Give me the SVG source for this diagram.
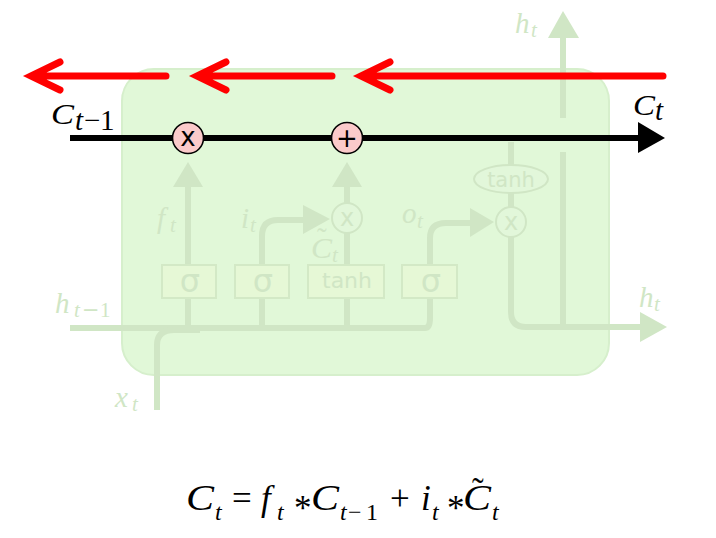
<svg xmlns="http://www.w3.org/2000/svg" width="716" height="538" viewBox="0 0 716 538">
<defs>
<style>
.fl{fill:none;stroke:#d0e6c5;stroke-width:6}
.fa{fill:#d0e6c5;stroke:none}
.gate{fill:#e6f8d6;stroke:#d3e9c6;stroke-width:2}
.gt{font-family:"DejaVu Sans",sans-serif;fill:#d0e6c5;text-anchor:middle}
.fo{fill:#e2f7da;stroke:#d0e6c5;stroke-width:2}
.lab{font-family:"Liberation Serif",serif;font-style:italic;font-size:29px;fill:#d0e6c5}
.ls{font-size:21px}
.mn{font-family:"DejaVu Sans",sans-serif;font-style:normal}
.blab{font-family:"Liberation Serif",serif;font-style:italic;font-size:29px;fill:#000}
.rm{font-style:normal}
.red{fill:none;stroke:#ff0000;stroke-width:7;stroke-linecap:round;stroke-linejoin:miter}
.op{fill:#fbcaca;stroke:#000;stroke-width:1.6}
.opt{font-family:"DejaVu Sans",sans-serif;font-size:26px;fill:#000;text-anchor:middle}
.eq{font-family:"Liberation Serif",serif;font-size:35px;fill:#000}
.eqs{font-family:"Liberation Serif",serif;font-size:24px;fill:#000}
.it{font-style:italic}
</style>
</defs>
<rect width="716" height="538" fill="#fff"/>
<g id="cell"><rect x="122" y="69" width="487" height="306" rx="32" fill="#e1f8d8" stroke="#d6efcc" stroke-width="2"/></g>
<g id="connectors">
<path class="fl" d="M70,328 L425,328 Q430,328 430,318 L430,298"/>
<path class="fl" d="M157,410 L157,345 Q157,330 174,330 L200,330"/>
<path class="fl" d="M188,328 L188,298 M188,265 L188,185"/>
<polygon class="fa" points="173,187 203,187 188,162"/>
<path class="fl" d="M262,328 L262,298 M262,265 L262,236 Q262,220 278,220 L305,220"/>
<polygon class="fa" points="303,205 303,234 330,219"/>
<path class="fl" d="M347,328 L347,298 M347,265 L347,233 M347,203 L347,185"/>
<polygon class="fa" points="332,187 362,187 347,162"/>
<path class="fl" d="M430,265 L430,238 Q430,223 446,223 L472,223"/>
<polygon class="fa" points="470,208 470,237 494,222"/>
<path class="fl" d="M511,142 L511,165 M511,193 L511,207 M511,237 L511,312 Q511,327 526,327 L645,327"/>
<polygon class="fa" points="640,312 640,342 667,327"/>
<path class="fl" d="M563,327 L563,152 M563,118 L563,36"/>
<polygon class="fa" points="548,38 579,38 563,11"/>
<path d="M70,138 L640,138" fill="none" stroke="#000" stroke-width="6"/>
<polygon points="638,122 638,153 665,138" fill="#000"/>
<path class="red" d="M166,76 L36,76 M60,62 L31,76 L60,90"/>
<path class="red" d="M332,76 L202,76 M226,62 L197,76 L226,90"/>
<path class="red" d="M663,76 L366,76 M390,62 L361,76 L390,90"/>
</g>
<g id="gate-f"><rect class="gate" x="162" y="265" width="54" height="33"/><text class="gt" x="190" y="292" font-size="32">σ</text></g>
<g id="gate-i"><rect class="gate" x="235" y="265" width="54" height="33"/><text class="gt" x="263" y="292" font-size="32">σ</text></g>
<g id="gate-c"><rect class="gate" x="308" y="265" width="76" height="33"/><text class="gt" x="347" y="288" font-size="22">tanh</text></g>
<g id="gate-o"><rect class="gate" x="402" y="265" width="55" height="33"/><text class="gt" x="431" y="292" font-size="32">σ</text></g>
<g id="op-mul-i"><circle class="fo" cx="347" cy="218" r="15"/><text class="gt" x="347" y="226" font-size="24">x</text></g>
<g id="op-mul-o"><circle class="fo" cx="511" cy="222" r="15"/><text class="gt" x="511" y="230" font-size="24">x</text></g>
<g id="op-tanh"><ellipse class="fo" cx="511" cy="179" rx="37" ry="14"/><text class="gt" x="511" y="187" font-size="21">tanh</text></g>
<g id="op-mul-f"><circle class="op" cx="188" cy="138" r="15.5"/><text class="opt" x="188" y="146">x</text></g>
<g id="op-add"><circle class="op" cx="347" cy="138" r="15.5"/><text class="opt" x="347" y="147">+</text></g>
<g id="labels">
<text class="blab" x="51" y="124" textLength="23" lengthAdjust="spacingAndGlyphs">C</text><text class="blab" x="75" y="130" font-size="21">t</text><text class="blab mn" x="82" y="130" font-size="19">−</text><text class="blab rm" x="100" y="130" font-size="21">1</text>
<text class="blab" x="633" y="115" textLength="22" lengthAdjust="spacingAndGlyphs">C</text><text class="blab" x="655" y="120" font-size="21">t</text>
<text class="lab" x="515" y="33">h</text><text class="lab ls" x="531" y="37">t</text>
<text class="lab" x="639" y="307">h</text><text class="lab ls" x="654" y="311">t</text>
<text class="lab" x="55" y="313">h</text><text class="lab ls" x="74" y="317">t</text><text class="lab ls mn" x="82" y="317" font-size="19">−</text><text class="lab ls rm" x="100" y="317">1</text>
<text class="lab" x="115" y="407">x</text><text class="lab ls" x="132" y="411">t</text>
<text class="lab" x="157" y="228">f</text><text class="lab ls" x="170" y="232">t</text>
<text class="lab" x="241" y="228">i</text><text class="lab ls" x="250" y="232">t</text>
<text class="lab" x="402" y="223">o</text><text class="lab ls" x="417" y="228">t</text>
<text class="lab" x="311" y="258" textLength="21" lengthAdjust="spacingAndGlyphs">C</text><text class="lab ls" x="332" y="262">t</text><text class="lab rm" x="317" y="248">˜</text>
</g>
<g id="equation">
<text class="eq it" x="186" y="510" textLength="28" lengthAdjust="spacingAndGlyphs">C</text>
<text class="eqs it" x="215" y="520">t</text>
<text class="eq" x="232" y="510">=</text>
<text class="eq it" x="261" y="510">f</text>
<text class="eqs it" x="277" y="520">t</text>
<text class="eq" x="294" y="520">*</text>
<text class="eq it" x="311" y="510" textLength="28" lengthAdjust="spacingAndGlyphs">C</text>
<text class="eqs it" x="340" y="520">t</text>
<text class="eqs mn" x="348" y="520" font-size="22">−</text>
<text class="eqs" x="366" y="520">1</text>
<text class="eq" x="390" y="510">+</text>
<text class="eq it" x="421" y="510">i</text>
<text class="eqs it" x="432" y="520">t</text>
<text class="eq" x="447" y="520">*</text>
<text class="eq it" x="463" y="510" textLength="28" lengthAdjust="spacingAndGlyphs">C</text>
<text class="eq" x="472" y="503">˜</text>
<text class="eqs it" x="492" y="520">t</text>
</g>
</svg>
